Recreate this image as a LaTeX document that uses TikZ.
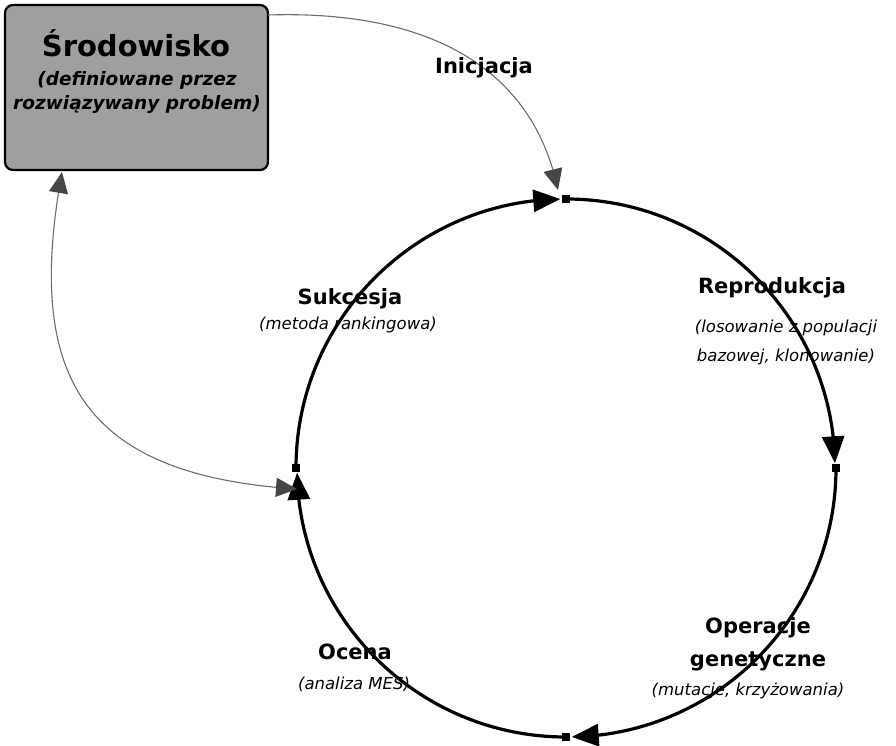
\documentclass[tikz,border=0pt]{standalone}
\usepackage{fontspec}
\setmainfont{DejaVu Sans}
\usetikzlibrary{arrows.meta,bending,calc}
\begin{document}
\begin{tikzpicture}[x=1pt,y=1pt,
  sq/.style={fill=black,minimum size=8pt,inner sep=0pt,outer sep=0pt},
  circ/.style={line width=3.2pt,black,-{Triangle[length=27pt,width=22pt]}},
  conn/.style={line width=1.1pt,draw=gray!85!black},
  gtip/.tip={Triangle[length=21pt,width=19pt,fill=gray!55!black,color=gray!55!black]},
  envbox/.style={draw=black,line width=2.2pt,rounded corners=8pt,fill=gray!75,
     minimum width=263pt,minimum height=165pt,inner sep=0pt},
  ttl/.style={font=\fontsize{21}{24}\selectfont\bfseries,inner sep=0pt},
  sub/.style={font=\fontsize{16.5}{29}\selectfont\itshape,inner sep=0pt,align=center}
]
\useasboundingbox (0,0) rectangle (896,745);
% environment box
\node[envbox] (env) at (136.5,657.5) {};
\node[font=\fontsize{29}{32}\selectfont\bfseries,inner sep=0pt] (envt) at (136,702) {Środowisko};
\node[font=\fontsize{18.5}{24}\selectfont\bfseries\itshape,inner sep=0pt,align=center] (envs) at (137,653)
  {(definiowane przez\\rozwiązywany problem)};
% cycle points
\node[sq] (top) at (566,546) {};
\node[sq] (right) at (836,277) {};
\node[sq] (bottom) at (566,8) {};
\node[sq] (left) at (296,277) {};
% cycle arcs
\draw[circ] (left.center) arc[start angle=180,end angle=91,radius=269];
\draw[circ] (top.center) arc[start angle=90,end angle=1,radius=269];
\draw[circ] (right.center) arc[start angle=0,end angle=-89,radius=269];
\draw[circ] (bottom.center) arc[start angle=-90,end angle=-179,radius=269];
\node[sq] at (top) {};
\node[sq] at (right) {};
\node[sq] at (bottom) {};
\node[sq] at (left) {};
% connectors
\coordinate (inistart) at (268,730);
\coordinate (iniend) at ($(top)+(-8,9)$);
\coordinate (envbot) at (62,573);
\coordinate (leftin) at ($(left)+(1,-21)$);
\draw[conn,-gtip] (inistart) .. controls (425,735) and (532,680) .. (iniend);
\draw[conn,gtip-gtip] (envbot) .. controls (25,370) and (80,270) .. (leftin);
% labels
\node[ttl] (ini) at (484,677) {Inicjacja};
\node[ttl] (suk) at (350,446) {Sukcesja};
\node[sub] (sukd) at (348,420) {(metoda rankingowa)};
\node[ttl] (rep) at (772,457) {Reprodukcja};
\node[sub] (repd) at (786,403) {(losowanie z populacji\\bazowej, klonowanie)};
\node[ttl,align=center,font=\fontsize{21}{33}\selectfont\bfseries] (ope) at (758,101) {Operacje\\genetyczne};
\node[sub] (oped) at (748,54) {(mutacje, krzyżowania)};
\node[ttl] (oce) at (355,93) {Ocena};
\node[sub] (oced) at (354,61) {(analiza MES)};
\end{tikzpicture}
\end{document}
